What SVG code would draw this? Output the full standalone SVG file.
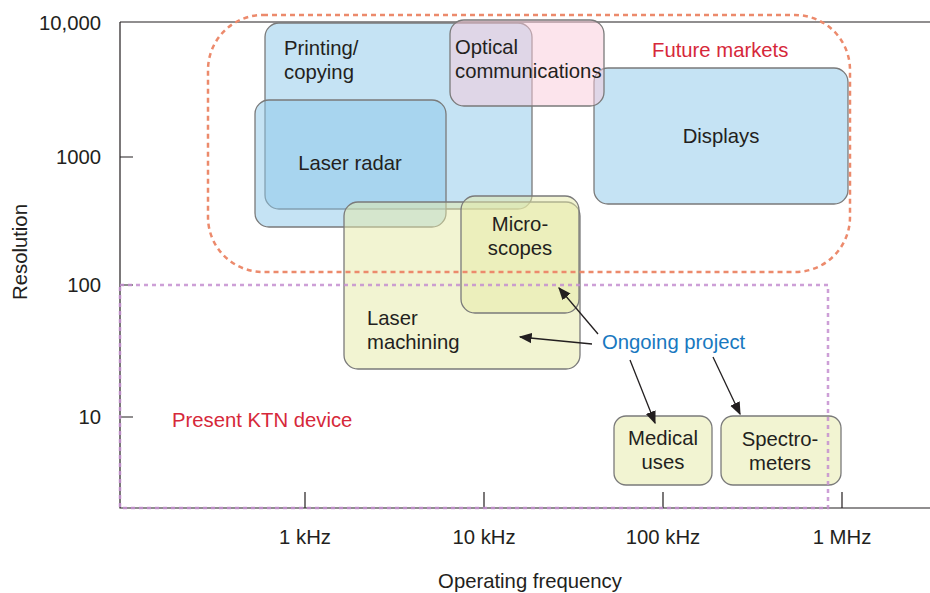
<svg xmlns="http://www.w3.org/2000/svg" width="930" height="593" viewBox="0 0 930 593">
<defs>
<style>
text{font-family:"Liberation Sans",Arial,sans-serif;font-size:20.3px;fill:#231f20}
.red{fill:#d6283a}
.blue{fill:#1878c0}
.mid{text-anchor:middle}
.end{text-anchor:end}
.axis{stroke:#231f20;stroke-width:1.2;fill:none}
.box{stroke:#7a7a7a;stroke-width:1.3}
.bl{fill:#8bc7e9;fill-opacity:0.5}
.ye{fill:#e6eaa5;fill-opacity:0.5}
.pk{fill:#f9c9d9;fill-opacity:0.5}
.arr{stroke:#231f20;stroke-width:1.3;fill:none;marker-end:url(#ah)}
</style>
<marker id="ah" viewBox="0 0 10 10" refX="9" refY="5" markerWidth="13" markerHeight="13" markerUnits="userSpaceOnUse" orient="auto">
<path d="M0,1 L10,5 L0,9 Z" fill="#231f20"/>
</marker>
</defs>
<rect width="930" height="593" fill="#fff"/>
<g id="axes">
<path class="axis" d="M120,22 H930 M120,22 V508 H930"/>
<path class="axis" d="M120,157 H133 M120,285 H133 M120,417 H133 M305,492 V508 M484,492 V508 M663,492 V508 M842,492 V508"/>
<text class="end" x="101" y="30">10,000</text>
<text class="end" x="101" y="164">1000</text>
<text class="end" x="101" y="292">100</text>
<text class="end" x="101" y="424">10</text>
<text class="mid" x="305" y="544">1 kHz</text>
<text class="mid" x="484" y="544">10 kHz</text>
<text class="mid" x="663" y="544">100 kHz</text>
<text class="mid" x="842" y="544">1 MHz</text>
<text class="mid" x="530" y="588">Operating frequency</text>
<text class="mid" transform="translate(27,252) rotate(-90)">Resolution</text>
</g>
<g id="printing"><rect class="box bl" x="265" y="23" width="267" height="186" rx="14"/>
<text x="284" y="55">Printing/</text><text x="284" y="79">copying</text></g>
<g id="laser-radar"><rect class="box bl" x="255" y="100" width="191" height="127" rx="14"/>
<text class="mid" x="350" y="170">Laser radar</text></g>
<g id="displays"><rect class="box bl" x="594" y="68" width="254" height="136" rx="14"/>
<text class="mid" x="721" y="143">Displays</text></g>
<g id="optical"><rect class="box pk" x="450" y="20" width="154" height="86" rx="14"/>
<text x="455" y="54">Optical</text><text x="455" y="78">communications</text></g>
<g id="laser-machining"><rect class="box ye" x="344" y="202" width="236" height="167" rx="14"/>
<text x="367" y="325">Laser</text><text x="367" y="349">machining</text></g>
<g id="microscopes"><rect class="box ye" x="461" y="196" width="118" height="117" rx="14"/>
<text class="mid" x="520" y="231">Micro-</text><text class="mid" x="520" y="255">scopes</text></g>
<g id="medical"><rect class="box ye" x="614" y="416" width="98" height="69" rx="12"/>
<text class="mid" x="663" y="445">Medical</text><text class="mid" x="663" y="469">uses</text></g>
<g id="spectrometers"><rect class="box ye" x="721" y="416" width="120" height="69" rx="12"/>
<text class="mid" x="780" y="446">Spectro-</text><text class="mid" x="780" y="470">meters</text></g>
<g id="regions">
<rect x="208" y="15" width="642" height="257" rx="55" fill="none" stroke="#ec8a6c" stroke-width="2.5" stroke-dasharray="5 4"/>
<text class="red" x="652" y="57">Future markets</text>
<path d="M120,285 H828 V508 H120 Z" fill="none" stroke="#c48ed0" stroke-width="2.5" stroke-dasharray="4 4" stroke-opacity="0.85"/>
<text class="red" x="172" y="427">Present KTN device</text>
</g>
<g id="ongoing"><text class="blue" x="602" y="349">Ongoing project</text></g>
<g id="connectors">
<path class="arr" d="M598,334 L559,288"/>
<path class="arr" d="M592,344 L520,337"/>
<path class="arr" d="M630,360 L655,423"/>
<path class="arr" d="M713,357 L740,414"/>
</g>
</svg>
